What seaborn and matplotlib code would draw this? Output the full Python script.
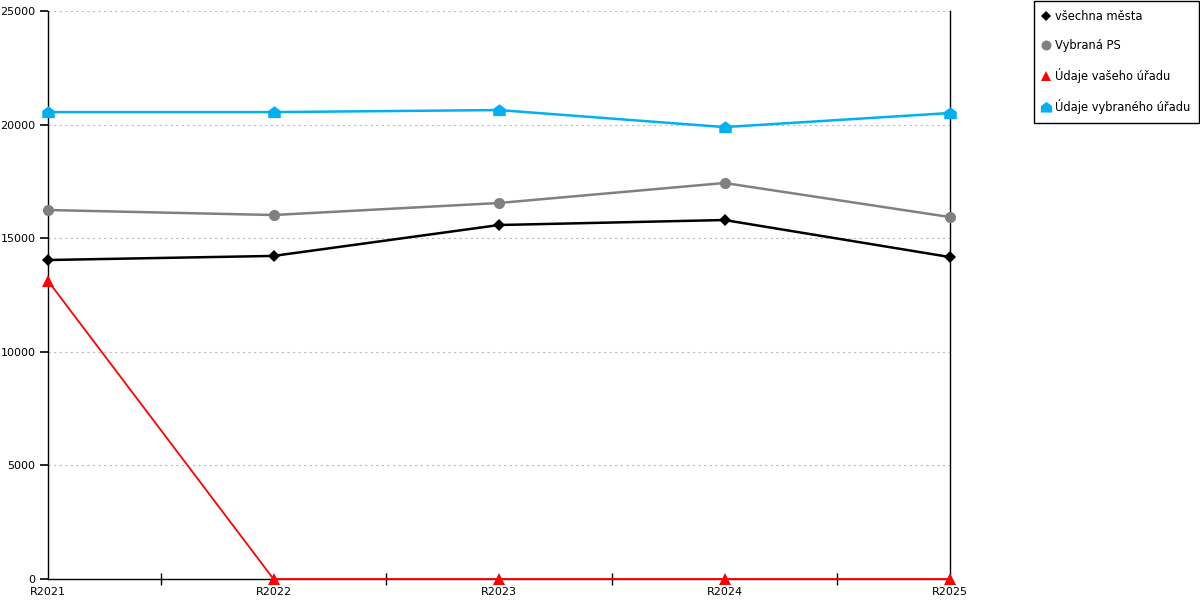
import pandas as pd
import matplotlib
matplotlib.use('Agg')
import matplotlib.pyplot as plt
from matplotlib.lines import Line2D
from matplotlib.ticker import FixedLocator
import seaborn as sns

years = ['R2021', 'R2022', 'R2023', 'R2024', 'R2025']
vsechna_mesta = [14040, 14220, 15580, 15800, 14170]
vybrana_ps = [16240, 16020, 16550, 17430, 15930]
vas_urad = [13120, 0, 0, 0, 0]
vybrany_urad = [20550, 20550, 20640, 19890, 20510]

series_names = ['všechna města', 'Vybraná PS', 'Údaje vašeho úřadu', 'Údaje vybraného úřadu']
colors = ['#000000', '#808080', '#ff0000', '#00b0f0']
house = [(-1, -0.9), (1, -0.9), (1, 0.25), (0, 1), (-1, 0.25), (-1, -0.9)]
markers = ['D', 'o', '^', house]
msizes = [6, 8, 8, 9]
lwidths = [1.8, 1.8, 1.3, 1.8]

df = pd.DataFrame({'rok': years, series_names[0]: vsechna_mesta, series_names[1]: vybrana_ps,
                   series_names[2]: vas_urad, series_names[3]: vybrany_urad})
df['pos'] = range(len(years))

sns.set_style('ticks')
plt.rcParams['font.family'] = ['DejaVu Sans']
plt.rcParams['text.color'] = 'black'
plt.rcParams['xtick.color'] = 'black'
plt.rcParams['ytick.color'] = 'black'
fig = plt.figure(figsize=(12, 6), dpi=100)
ax = fig.add_axes([48/1200, 21/600, 902/1200, 568/600])

for name, c, m, ms, lw in zip(series_names, colors, markers, msizes, lwidths):
    sns.lineplot(data=df, x='pos', y=name, ax=ax, color=c, marker=m, markersize=ms,
                 markeredgewidth=0, linewidth=lw, zorder=3, clip_on=False)

ax.set_xlim(0, 4)
ax.set_ylim(0, 25000)
ax.set_xticks(range(len(years)))
ax.set_xticklabels(years)
ax.xaxis.set_minor_locator(FixedLocator([0.5, 1.5, 2.5, 3.5]))
ax.tick_params(axis='x', which='major', length=0, labelsize=8, pad=6, labelcolor='black')
ax.tick_params(axis='x', which='minor', direction='inout', length=8, width=1, color='black', bottom=True)
ax.set_yticks([0, 5000, 10000, 15000, 20000, 25000])
ax.yaxis.set_ticks_position('left')
ax.tick_params(axis='y', which='major', direction='out', length=6, width=1.2, color='black',
               labelsize=8, pad=3, left=True, labelcolor='black')
for tk in ax.yaxis.get_major_ticks():
    tk.tick1line.set_visible(True)
    tk.tick1line.set_markeredgecolor('black')
ax.set_xlabel('')
ax.set_ylabel('')
ax.yaxis.grid(True, linestyle=(0, (2, 3)), color='#bbbbbb', linewidth=0.8)
ax.xaxis.grid(False)
for side in ['left', 'bottom', 'right']:
    ax.spines[side].set_visible(True)
    ax.spines[side].set_color('black')
    ax.spines[side].set_linewidth(1)
ax.spines['top'].set_visible(False)

handles = [Line2D([], [], linestyle='none', marker=m, color=c, markersize=ms * 0.9, markeredgewidth=0)
           for c, m, ms in zip(colors, markers, msizes)]
leg = fig.legend(handles, series_names, loc='upper left', bbox_to_anchor=(1034/1200, 1 - 1/600),
                 frameon=True, fancybox=False, edgecolor='black', fontsize=8.3,
                 handlelength=0.5, handletextpad=0.5, labelspacing=1.37, borderpad=0.8,
                 borderaxespad=0)
leg.get_frame().set_linewidth(1)
leg.get_frame().set_alpha(1)
for t in leg.get_texts():
    t.set_color('black')

fig.savefig('out.png', dpi=100)
